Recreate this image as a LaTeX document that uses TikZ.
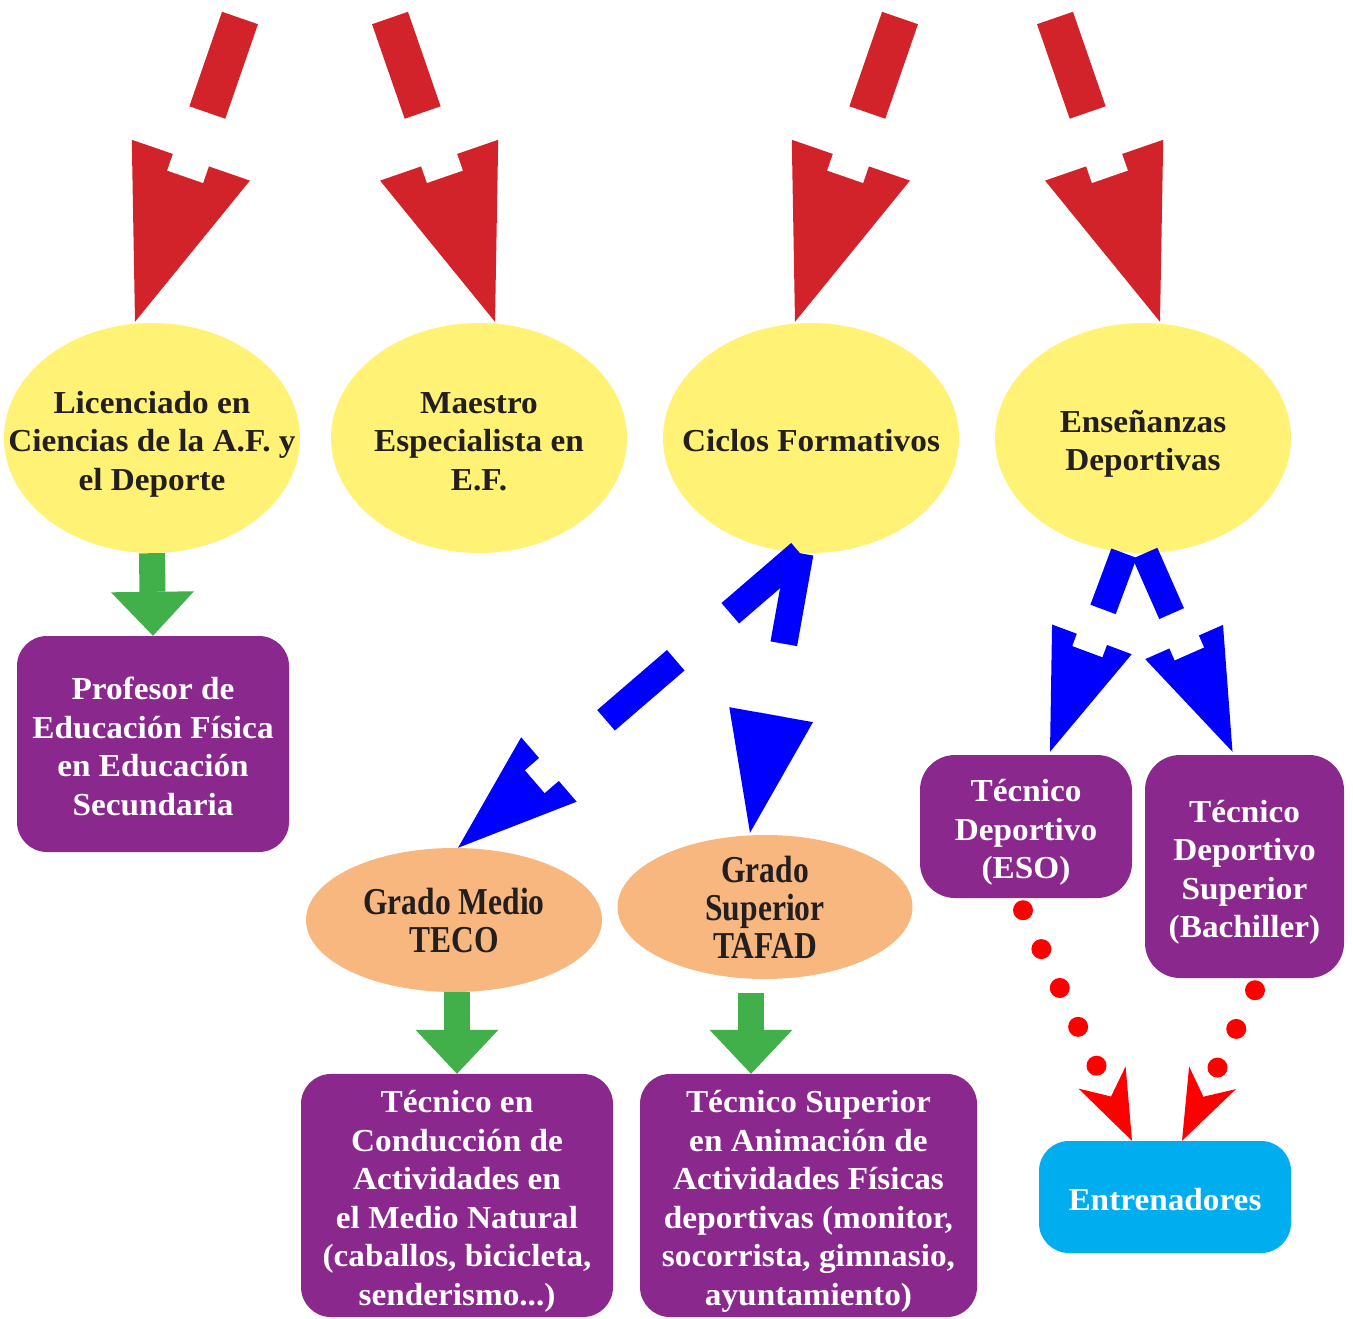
\documentclass[tikz,border=0pt]{standalone}
\usepackage{fontspec}
\setmainfont{Liberation Serif}[FakeStretch=1.04]
\newfontfamily\condfont{Liberation Serif}[FakeStretch=0.83]
\usetikzlibrary{arrows.meta,shapes.geometric,calc}
\definecolor{cRed}{RGB}{210,35,42}
\definecolor{cYellow}{RGB}{255,242,117}
\definecolor{cPurple}{RGB}{139,40,142}
\definecolor{cOrange}{RGB}{248,183,126}
\definecolor{cCyan}{RGB}{0,174,239}
\definecolor{cGreen}{RGB}{65,176,74}
\definecolor{cBlue}{RGB}{0,0,255}
\definecolor{cDot}{RGB}{255,0,0}
\definecolor{cDark}{RGB}{35,31,32}
\newcommand\tx[1]{\begin{tabular}{@{}c@{}}\rule{0pt}{39pt}#1\end{tabular}}
\begin{document}
\begin{tikzpicture}[x=1pt,y=-1pt,
  every node/.style={font=\fontsize{32}{38.5}\selectfont\bfseries, inner sep=0pt},
  yell/.style={ellipse, fill=cYellow, text=cDark, inner xsep=-45pt, inner ysep=0pt, minimum width=296pt, minimum height=230pt},
  orng/.style={ellipse, fill=cOrange, text=cDark, inner xsep=-30pt, inner ysep=-30pt, minimum width=296pt, minimum height=144pt, font=\fontsize{38}{38}\selectfont\bfseries\condfont},
  pbox/.style={rectangle, rounded corners=30pt, fill=cPurple, text=white},
  cbox/.style={rectangle, rounded corners=30pt, fill=cCyan, text=white},
  redarr/.style={draw=cRed, line width=38pt, dash pattern=on 100pt off 60pt, -{Triangle[length=171pt,width=125pt,line width=0pt]}},
  bluearr/.style={draw=cBlue, line width=27pt, -{Triangle[length=120pt,width=85pt,line width=0pt]}},
  greenarr/.style={draw=cGreen, line width=26pt, -{Triangle[length=44pt,width=83pt,line width=0pt]}},
  dotarr/.style={draw=cDot, line width=20pt, line cap=round, dash pattern=on 0pt off 43pt, -{Stealth[length=70pt,width=52pt,inset=21pt,line width=0pt]}},
  notch/.style={draw=white, line width=#1},
  notch/.default=38pt
]
\useasboundingbox (0,0) rectangle (1353,1319);

% ellipses
\node[yell] (e1) at (152,438) {\tx{Licenciado en\\Ciencias de la A.F. y\\el Deporte}};
\node[yell] (e2) at (479,438) {\tx{Maestro\\Especialista en\\E.F.}};
\node[yell] (e3) at (811,438) {\tx{Ciclos Formativos}};
\node[yell] (e4) at (1143,438) {\tx{Enseñanzas\\Deportivas}};

\node[orng] (o1) at (454,920) {\tx{Grado Medio\\TECO}};
\node[orng, minimum width=295pt] (o2) at (765,907) {\tx{Grado\\Superior\\TAFAD}};

% boxes
\node[pbox, minimum width=272pt, minimum height=216pt] (p1) at (153,744) {\tx{Profesor de\\Educación Física\\en Educación\\Secundaria}};
\node[pbox, minimum width=312pt, minimum height=241pt] (b1) at (457,1195.5) {\tx{Técnico en\\Conducción de\\Actividades en\\el Medio Natural\\(caballos, bicicleta,\\senderismo...)}};
\node[pbox, minimum width=337pt, minimum height=241pt] (b2) at (808.5,1195.5) {\tx{Técnico Superior\\en Animación de\\Actividades Físicas\\deportivas (monitor,\\socorrista, gimnasio,\\ayuntamiento)}};
\node[pbox, rounded corners=35pt, minimum width=212pt, minimum height=143pt] (t1) at (1026,826.5) {\tx{Técnico\\Deportivo\\(ESO)}};
\node[pbox, rounded corners=35pt, minimum width=199pt, minimum height=223pt] (t2) at (1244.5,866.5) {\tx{Técnico\\Deportivo\\Superior\\(Bachiller)}};
\node[cbox, minimum width=252pt, minimum height=112pt] (en) at (1165,1197) {\tx{Entrenadores}};

% red arrows from the top
\coordinate (r1) at (240,18);
\coordinate (r2) at (390,18);
\coordinate (r3) at (900,18);
\coordinate (r4) at (1055,18);
\coordinate (h1) at ($(e1.north)+(-17,-1)$);
\coordinate (h2) at ($(e2.north)+(16,-1)$);
\coordinate (h3) at ($(e3.north)+(-16,-1)$);
\coordinate (h4) at ($(e4.north)+(17,-1)$);
\foreach \i in {1,2,3,4}{
  \draw[redarr] (r\i) -- (h\i);
  \draw[notch] ($(r\i)!140pt!(h\i)$) -- ($(r\i)!168pt!(h\i)$);
}

% green arrows
\draw[greenarr] (e1.south) -- (p1.north);
\draw[greenarr] (b1.north |- o1.south) -- (b1.north);
\coordinate (g3) at ($(o2.south)+(-14,14)$);
\draw[greenarr] (g3) -- (g3 |- b2.north);

% blue arrows
\coordinate (c0) at ($(e3.south)+(-11,0)$);
\coordinate (cL) at ($(o1.north)+(4,0)$);
\coordinate (cR) at ($(o2.north)+(-15,-2)$);
\coordinate (sL) at ($(e4.south)+(-19,0)$);
\coordinate (sR) at ($(e4.south)+(2,0)$);
\coordinate (dL) at ($(t1.north)+(24,-3)$);
\coordinate (dR) at ($(t2.north)+(-12,-3)$);
\draw[bluearr, dash pattern=on 92pt off 72pt] (c0) -- (cL);
\draw[notch=30pt] ($(c0)!326pt!(cL)$) -- ($(c0)!350pt!(cL)$);
\draw[bluearr, dash pattern=on 92pt off 72pt] (c0) -- (cR);
\draw[bluearr, dash pattern=on 60pt off 70pt] (sL) -- (dL);
\draw[notch=32pt] ($(sL)!86pt!(dL)$) -- ($(sL)!105pt!(dL)$);
\draw[bluearr, dash pattern=on 66pt off 70pt] (sR) -- (dR);
\draw[notch=32pt] ($(sR)!91pt!(dR)$) -- ($(sR)!110pt!(dR)$);

% red dotted arrows
\draw[dotarr] ($(t1.south)+(-3,12)$) -- ($(en.north)+(-33,0)$);
\draw[dotarr] ($(t2.south)+(10.5,12)$) -- ($(en.north)+(17,0)$);
\end{tikzpicture}
\end{document}
